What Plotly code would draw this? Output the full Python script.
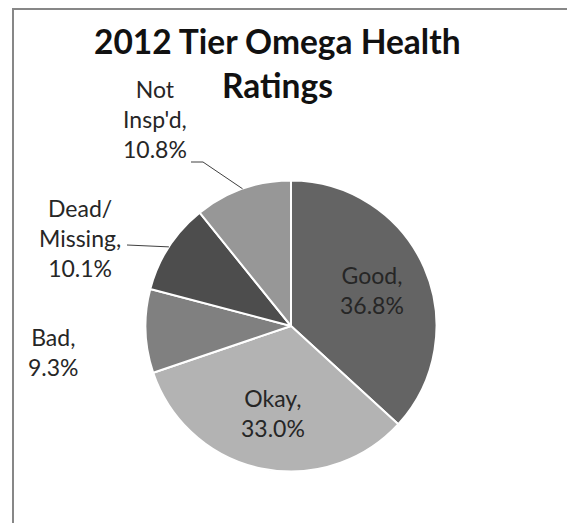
import math
import plotly.graph_objects as go

# Tree health ratings, share of inventory (%)
categories = ["Good", "Okay", "Bad", "Dead/Missing", "Not Insp'd"]
shares = [36.8, 33.0, 9.3, 10.1, 10.8]
# wrapped display names used in the data labels
label_names = ["Good,", "Okay,", "Bad,", "Dead/<br>Missing,", "Not<br>Insp'd,"]
slice_colors = ["#646464", "#b3b3b3", "#808080", "#4d4d4d", "#979797"]

W, H = 567, 523
CX, CY, R = 291, 326, 145.5  # pie centre and radius, pixels


def px(x):
    return x / W


def py(y):
    return 1 - y / H


fig = go.Figure(
    go.Pie(
        labels=categories,
        values=shares,
        sort=False,
        direction="clockwise",
        rotation=0,
        marker=dict(colors=slice_colors, line=dict(color="white", width=2)),
        textinfo="none",
        hoverinfo="label+percent",
        showlegend=False,
        domain=dict(x=[px(CX - R), px(CX + R)], y=[py(CY + R), py(CY - R)]),
    )
)

# mid angle of every slice, degrees clockwise from 12 o'clock
total = sum(shares)
mids = []
acc = 0.0
for v in shares:
    mids.append((acc + v / 2) / total * 360)
    acc += v


def edge_point(angle_deg, frac=1.0):
    a = math.radians(angle_deg)
    return CX + frac * R * math.sin(a), CY - frac * R * math.cos(a)


label_font = dict(family="Lato, Carlito, sans-serif", size=23, color="#262626")
texts = [f"{n}<br>{v:.1f}%" for n, v in zip(label_names, shares)]

annotations = []
# labels placed inside the two large slices
for i in (0, 1):
    x, y = edge_point(mids[i], 0.61)
    annotations.append(dict(x=px(x), y=py(y), xref="paper", yref="paper",
                            text=texts[i], showarrow=False, font=label_font,
                            xanchor="center", yanchor="middle", align="center"))

# labels set outside the small slices (pixel centres)
outside_pos = {2: (53, 352), 3: (80, 238), 4: (155, 119)}
for i, (x, y) in outside_pos.items():
    annotations.append(dict(x=px(x), y=py(y), xref="paper", yref="paper",
                            text=texts[i], showarrow=False, font=label_font,
                            xanchor="center", yanchor="middle", align="center"))

# title, two lines
title_font = dict(family="Lato, Carlito, sans-serif", size=33.5, color="#111111")
for txt, y in (("<b>2012 Tier Omega Health</b>", 41), ("<b>Ratings</b>", 85)):
    annotations.append(dict(x=px(277), y=py(y), xref="paper", yref="paper",
                            text=txt, showarrow=False, font=title_font,
                            xanchor="center", yanchor="middle"))

shapes = []
# chart area border
shapes.append(dict(type="rect", xref="paper", yref="paper",
                   x0=px(13), y0=py(540), x1=px(600), y1=py(9),
                   line=dict(color="#878787", width=2), fillcolor="rgba(0,0,0,0)"))

# leader lines from outside labels to their slices
leader = dict(color="#404040", width=1)
ex, ey = edge_point(mids[3])
shapes.append(dict(type="line", xref="paper", yref="paper",
                   x0=px(127), y0=py(245), x1=px(ex), y1=py(ey), line=leader))
ex, ey = edge_point(mids[4])
shapes.append(dict(type="line", xref="paper", yref="paper",
                   x0=px(191), y0=py(162), x1=px(203), y1=py(162), line=leader))
shapes.append(dict(type="line", xref="paper", yref="paper",
                   x0=px(203), y0=py(162), x1=px(ex), y1=py(ey), line=leader))

fig.update_layout(
    width=W, height=H,
    margin=dict(l=0, r=0, t=0, b=0),
    paper_bgcolor="white",
    plot_bgcolor="white",
    annotations=annotations,
    shapes=shapes,
)

fig.write_html("out.html")
